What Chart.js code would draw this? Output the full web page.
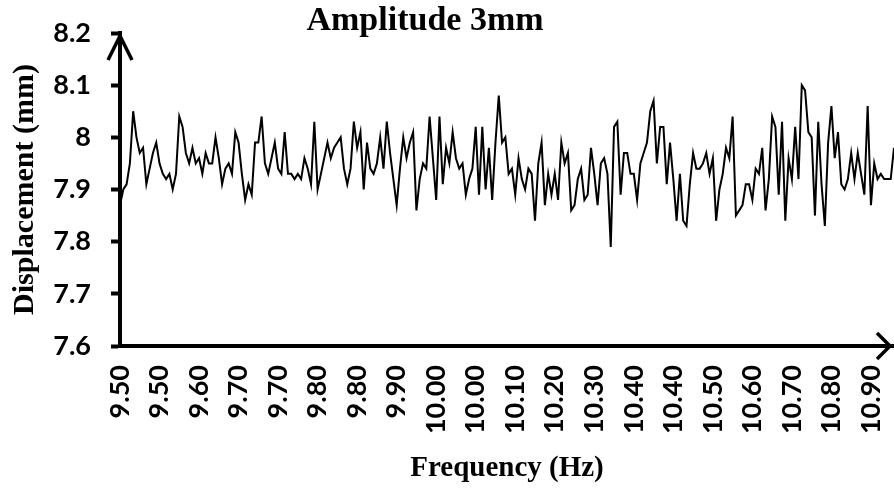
<!DOCTYPE html>
<html lang="en">

<head>
    <meta charset="UTF-8">
    <title>Amplitude 3mm</title>
    <script src="https://cdn.jsdelivr.net/npm/chart.js"></script>
    <style>
        body { margin: 0; background: #ffffff; overflow: hidden; }
        #grafico { display: block; }
    </style>
</head>

<body>
    <canvas id="grafico" width="894" height="490"></canvas>
</body>

</html>

<script>

    const displacement = [
        7.87, 7.90, 7.91, 7.95, 8.05, 8.00, 7.97, 7.98, 7.91, 7.94, 7.97, 7.99,
        7.95, 7.93, 7.92, 7.93, 7.90, 7.93, 8.04, 8.02, 7.97, 7.95, 7.98, 7.95,
        7.96, 7.93, 7.97, 7.95, 7.95, 8.00, 7.96, 7.91, 7.94, 7.95, 7.93, 8.01,
        7.99, 7.93, 7.88, 7.91, 7.89, 7.99, 7.99, 8.04, 7.95, 7.93, 7.96, 7.99,
        7.94, 7.93, 8.01, 7.93, 7.93, 7.92, 7.93, 7.92, 7.96, 7.94, 7.91, 8.03,
        7.90, 7.93, 7.96, 7.99, 7.96, 7.98, 7.99, 8.00, 7.94, 7.91, 7.94, 8.03,
        7.98, 8.01, 7.90, 7.99, 7.94, 7.93, 7.95, 8.00, 7.94, 8.03, 7.97, 7.92,
        7.87, 7.94, 8.00, 7.96, 7.99, 8.01, 7.86, 7.92, 7.95, 7.94, 8.04, 7.96,
        7.88, 8.04, 7.91, 7.98, 7.95, 8.01, 7.96, 7.94, 7.95, 7.89, 7.92, 7.94,
        8.02, 7.89, 8.02, 7.90, 7.98, 7.88, 7.99, 8.08, 7.99, 8.00, 7.93, 7.94,
        7.89, 7.96, 7.92, 7.90, 7.94, 7.93, 7.84, 7.95, 7.99, 7.87, 7.93, 7.89,
        7.93, 7.88, 7.99, 7.95, 7.97, 7.86, 7.87, 7.92, 7.94, 7.88, 7.89, 7.98,
        7.93, 7.87, 7.95, 7.96, 7.93, 7.79, 8.02, 8.03, 7.89, 7.97, 7.97, 7.93,
        7.93, 7.88, 7.95, 7.97, 7.99, 8.05, 8.07, 7.95, 8.02, 8.02, 7.91, 7.99,
        7.92, 7.84, 7.93, 7.84, 7.83, 7.91, 7.97, 7.94, 7.94, 7.95, 7.97, 7.93,
        7.96, 7.84, 7.90, 7.93, 7.98, 7.96, 8.04, 7.85, 7.86, 7.87, 7.91, 7.91,
        7.88, 7.94, 7.93, 7.98, 7.86, 7.92, 8.04, 8.02, 7.89, 8.03, 7.84, 7.96,
        7.92, 8.02, 7.92, 8.10, 8.09, 8.01, 8.00, 7.85, 8.03, 7.91, 7.83, 7.99,
        8.06, 7.96, 8.01, 7.91, 7.90, 7.92, 7.97, 7.92, 7.97, 7.93, 7.89, 8.06,
        7.87, 7.95, 7.92, 7.93, 7.92, 7.92, 7.92, 7.98
    ];

    // rotulos do eixo x (um a cada 12 pontos)
    const tickLabels = ['9.50', '9.50', '9.60', '9.70', '9.70', '9.80', '9.80', '9.90', '10.00', '10.00',
        '10.10', '10.20', '10.30', '10.40', '10.40', '10.50', '10.60', '10.70', '10.80', '10.90'];
    const labelStep = 12;

    const chartTitle = 'Amplitude 3mm';
    const xTitle = 'Frequency (Hz)';
    const yTitle = 'Displacement (mm)';

    const categories = displacement.map((v, i) => i % labelStep === 0 ? tickLabels[i / labelStep] : '');

    const tickFont = { family: 'Lato', weight: 'bold', size: 27 };
    const titleFont = { family: '"Liberation Serif"', weight: 'bold', size: 29 };

    // titulo principal e setas dos eixos
    const extras = {
        id: 'extras',
        afterDraw(chart) {
            const ctx = chart.ctx;
            const a = chart.chartArea;
            ctx.save();
            ctx.fillStyle = '#000';
            ctx.font = 'bold 34px "Liberation Serif"';
            ctx.textAlign = 'center';
            ctx.textBaseline = 'middle';
            ctx.fillText(chartTitle, 425, 21);

            ctx.strokeStyle = '#000';
            ctx.lineWidth = 3.5;
            ctx.lineCap = 'butt';
            ctx.lineJoin = 'miter';
            // seta do eixo y
            ctx.beginPath();
            ctx.moveTo(a.left - 12, 60);
            ctx.lineTo(a.left, 36);
            ctx.lineTo(a.left + 12, 60);
            ctx.stroke();
            // seta do eixo x
            ctx.beginPath();
            ctx.moveTo(877, a.bottom - 13);
            ctx.lineTo(890, a.bottom);
            ctx.lineTo(877, a.bottom + 13);
            ctx.stroke();
            ctx.restore();
        }
    };

    const dados = {
        labels: categories,
        datasets: [{
            label: 'Displacement',
            data: displacement,
            borderColor: '#000',
            borderWidth: 2,
            pointRadius: 0,
            fill: false,
            tension: 0
        }]
    };

    const config = {
        type: 'line',
        data: dados,
        plugins: [extras],
        options: {
            responsive: false,
            animation: false,
            devicePixelRatio: 1,
            layout: { padding: { top: 33, right: 0, left: 0, bottom: 0 } },
            plugins: {
                legend: { display: false },
                tooltip: { enabled: false }
            },
            scales: {
                x: {
                    type: 'category',
                    offset: false,
                    afterFit(scale) {
                        scale.height = 144;
                        scale.paddingLeft = 0;
                        scale.paddingRight = 0;
                    },
                    grid: { display: false, drawTicks: false },
                    border: { display: true, color: '#000', width: 4 },
                    ticks: {
                        autoSkip: false,
                        minRotation: 90,
                        maxRotation: 90,
                        padding: 19,
                        color: '#000',
                        font: tickFont,
                        callback: (v, i) => i % labelStep === 0 ? tickLabels[i / labelStep] : null
                    },
                    title: {
                        display: true,
                        text: xTitle,
                        color: '#000',
                        font: titleFont,
                        padding: { top: 0, bottom: 4 }
                    }
                },
                y: {
                    min: 7.6,
                    max: 8.2,
                    afterFit(scale) {
                        scale.width = 120;
                        scale.paddingTop = 0;
                        scale.paddingBottom = 0;
                    },
                    grid: {
                        display: true,
                        drawOnChartArea: false,
                        drawTicks: true,
                        tickLength: 9,
                        tickWidth: 4,
                        tickColor: '#000'
                    },
                    border: { display: true, color: '#000', width: 4 },
                    ticks: {
                        stepSize: 0.1,
                        padding: 20,
                        color: '#000',
                        font: tickFont,
                        callback: v => String(Math.round(v * 10) / 10)
                    },
                    title: {
                        display: true,
                        text: yTitle,
                        color: '#000',
                        font: { family: '"Liberation Serif"', weight: 'bold', size: 30 },
                        padding: { top: 7, bottom: 0 }
                    }
                }
            }
        }
    };

    let grafico = new Chart(document.getElementById('grafico'), config);

</script>
